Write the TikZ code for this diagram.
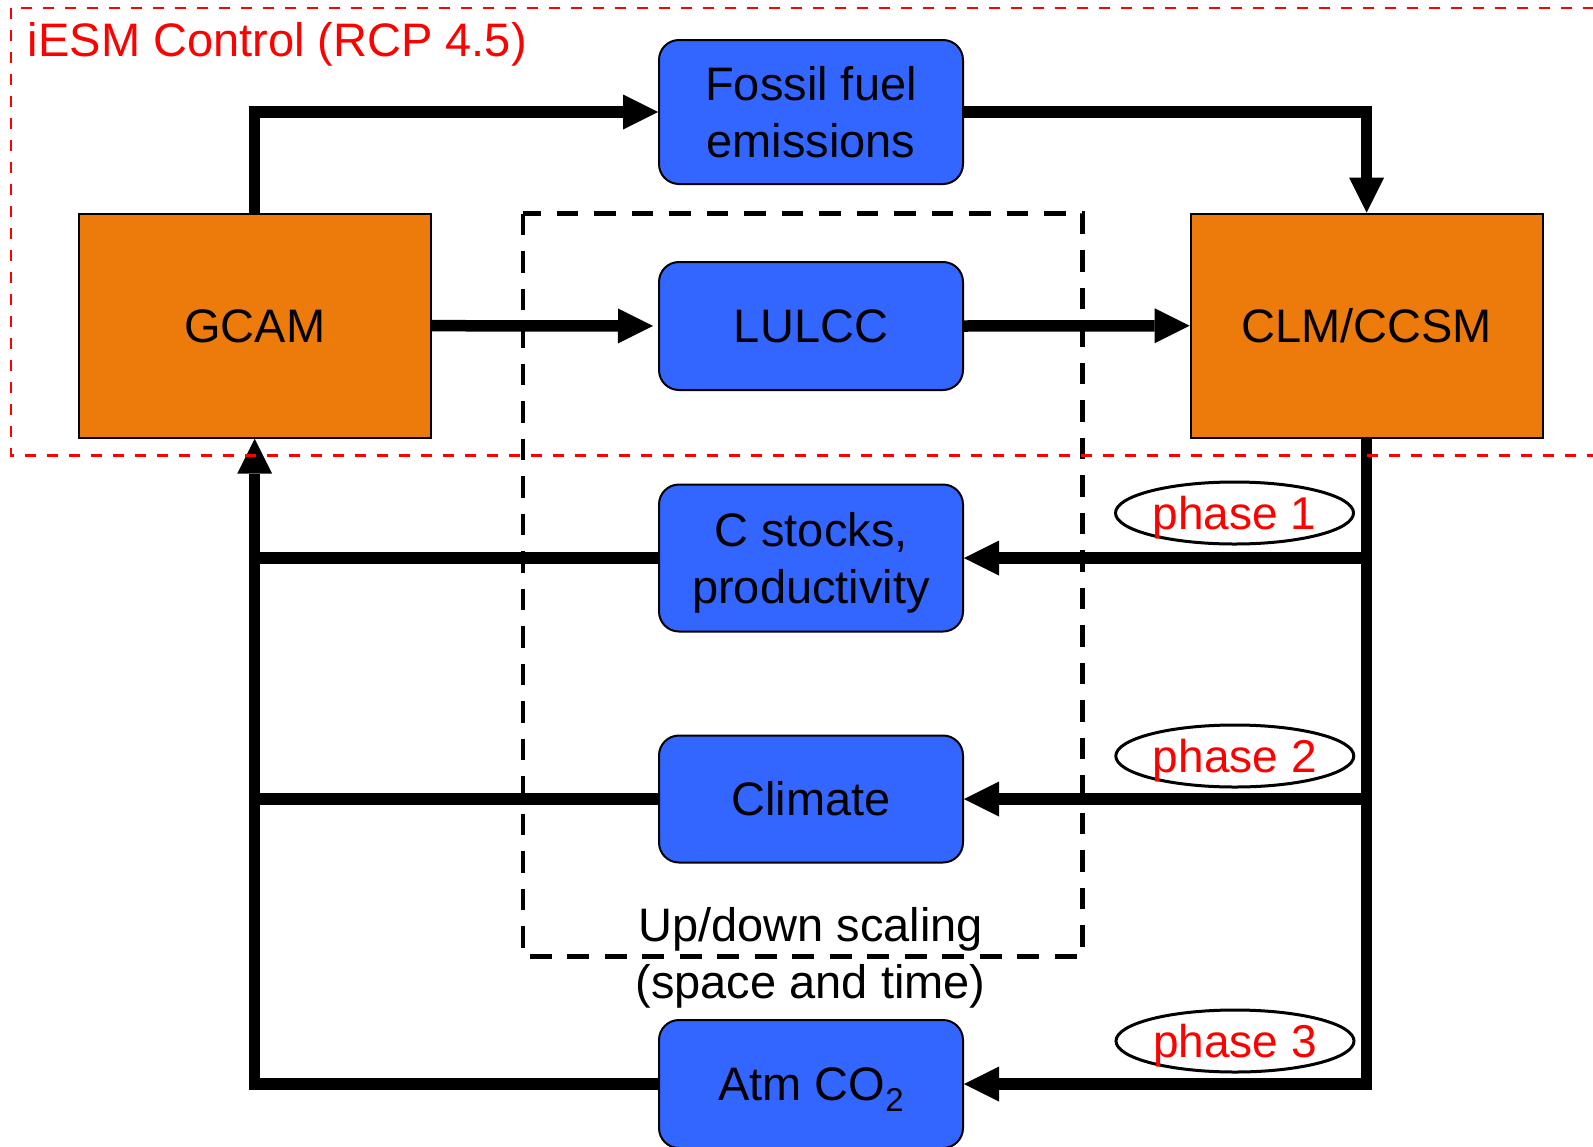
\documentclass[tikz,border=0pt]{standalone}
\usepackage{fontspec}
\setmainfont{Liberation Sans}
\usetikzlibrary{arrows.meta,shapes.geometric}

\definecolor{varblue}{RGB}{51,102,255}
\definecolor{modelorange}{RGB}{236,123,12}
\definecolor{ctrlred}{RGB}{255,0,0}

\newcommand\diagfont{\fontsize{47pt}{56.7pt}\selectfont}
\newcommand\phasefont{\fontsize{46pt}{55pt}\selectfont}
\newcommand\subtwo{\raisebox{-10.5pt}{\fontsize{33pt}{33pt}\selectfont 2}}

\tikzset{
  model/.style={draw=black, line width=2pt, fill=modelorange,
    minimum width=352pt, minimum height=224pt, inner sep=0pt,
    font=\diagfont, text height=33.7pt, text depth=0pt},
  var/.style={draw=black, line width=2pt, fill=varblue, rounded corners=20pt,
    minimum width=304pt, inner sep=0pt, align=center, font=\diagfont,
    text height=33.7pt, text depth=0pt},
  twoline/.style={text height=90.4pt, text depth=0pt},
  conn/.style={line width=11.5pt, line join=miter},
  tip/.style={-{Triangle[length=35pt,width=35pt,line width=0pt]}},
  phase/.style={ellipse, draw=black, line width=3pt, fill=white,
    minimum width=238pt, minimum height=62pt, inner sep=0pt,
    text=ctrlred, font=\phasefont, text height=33pt, text depth=0pt},
  scaling/.style={dash pattern=on 21.7pt off 15.8pt, line width=4.5pt},
  control/.style={draw=ctrlred, line width=2.2pt, dash pattern=on 11pt off 11pt},
}

\begin{document}
\begin{tikzpicture}[x=1pt,y=-1pt]
  \useasboundingbox (0,0) rectangle (1593,1146);

  % up/down scaling frame
  \draw[scaling] (523,213.5) rectangle (1082.5,956.7);

  % models
  \node[model] (gcam) at (254.7,325.7) {GCAM};
  \node[model] (clm) at (1366.6,325.7) {CLM/CCSM};

  % exchanged quantities
  \node[var, minimum height=144pt, twoline] (fossil) at (811,112) {Fossil fuel\\emissions};
  \node[var, minimum height=128pt] (lulcc) at (811,326) {LULCC};
  \node[var, minimum height=147pt, twoline] (cstocks) at (811,558) {C stocks,\\productivity};
  \node[var, minimum height=127pt] (climate) at (811,799) {Climate};
  \node[var, minimum height=128pt] (atm) at (811,1084) {Atm CO\subtwo};

  % forward coupling
  \draw[conn,tip] (gcam.north) |- (fossil.west);
  \draw[conn,tip] (fossil.east) -| (clm.north);
  \draw[conn,tip,shorten >=5pt] (gcam.east) -- (lulcc.west);
  \draw[conn,tip] (lulcc.east) -- (clm.west);

  % feedback from CLM/CCSM
  \draw[conn,tip] (clm.south) |- (atm.east);
  \draw[conn,tip] (clm.south |- cstocks.east) -- (cstocks.east);
  \draw[conn,tip] (clm.south |- climate.east) -- (climate.east);

  % feedback into GCAM
  \draw[conn,tip] (atm.west) -| (gcam.south);
  \draw[conn] (cstocks.west) -- (cstocks.west -| gcam.south);
  \draw[conn] (climate.west) -- (climate.west -| gcam.south);

  % phases
  \node[phase] (ph1) at (1234.5,513) {phase 1};
  \node[phase] (ph2) at (1234.8,756) {phase 2};
  \node[phase] (ph3) at (1235,1041) {phase 3};

  % scaling label
  \node[font=\diagfont, anchor=base, inner sep=0pt] (scaleA) at (810.5,941.7) {Up/down scaling};
  \node[font=\diagfont, anchor=base, inner sep=0pt] (scaleB) at (810.5,998.3) {(space and time)};

  % iESM control region
  \draw[control] (10.7,8) rectangle (1620,455.5);
  \node[font=\diagfont, text=ctrlred, anchor=base west, inner sep=0pt] (ctrl) at (27.7,56) {iESM Control (RCP 4.5)};
\end{tikzpicture}
\end{document}
